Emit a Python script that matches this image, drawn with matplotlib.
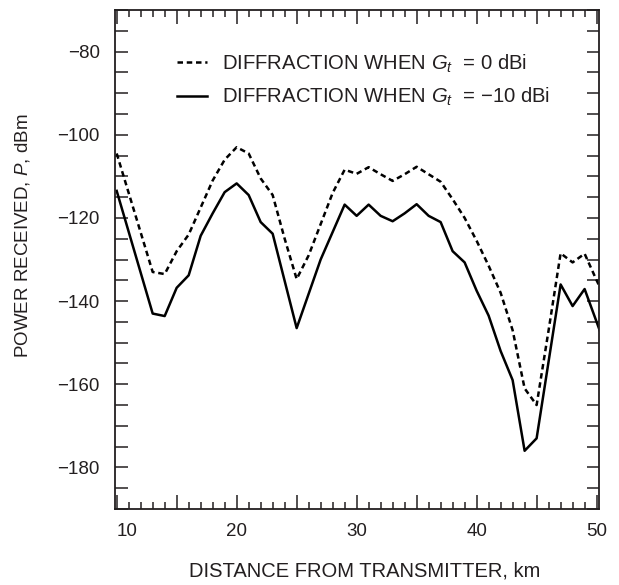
import matplotlib
matplotlib.use('Agg')
import matplotlib.pyplot as plt
from matplotlib.ticker import MultipleLocator, FixedLocator, FixedFormatter

# data (distance in km, power in dBm)
dist_0dbi = [10, 13, 14, 15, 16, 17, 18, 19, 20, 21, 22, 23, 24, 25, 26, 27, 28,
             29, 30, 31, 32, 33, 34, 35, 36, 37, 38, 39, 40, 41, 42, 43, 44, 45,
             46, 47, 48, 49, 50, 51]
power_0dbi = [-104.5, -133.0, -133.5, -128.0, -124.0, -117.5, -111.0, -106.0,
              -103.0, -104.5, -110.5, -114.5, -125.0, -134.7, -129.0, -121.5,
              -114.0, -108.4, -109.4, -107.8, -109.5, -111.1, -109.5, -107.7,
              -109.5, -111.3, -115.5, -120.0, -125.5, -131.5, -138.0, -147.0,
              -161.0, -165.0, -147.0, -128.5, -130.7, -128.6, -135.0, -141.0]

dist_m10dbi = [10, 13, 14, 15, 16, 17, 18, 19, 20, 21, 22, 23, 25, 27, 29, 30,
               31, 32, 33, 34, 35, 36, 37, 38, 39, 40, 41, 42, 43, 44, 45, 47,
               48, 49, 50, 51]
power_m10dbi = [-113.5, -143.0, -143.6, -136.8, -133.8, -124.3, -118.9, -113.8,
                -111.7, -114.5, -121.0, -123.8, -146.5, -130.0, -116.8, -119.5,
                -116.8, -119.5, -120.8, -118.9, -116.7, -119.5, -121.0, -128.0,
                -130.7, -137.5, -143.5, -152.0, -159.0, -176.0, -173.0, -136.0,
                -141.2, -137.1, -145.0, -153.0]

labels = ['DIFFRACTION WHEN $G_t$  = 0 dBi', 'DIFFRACTION WHEN $G_t$  = \u221210 dBi']

x_ticks = [10, 20, 30, 40, 50]
y_ticks = [-80, -100, -120, -140, -160, -180]

ink = '#231f20'
plt.rcParams['font.family'] = ['Liberation Sans', 'DejaVu Sans']
plt.rcParams['mathtext.fontset'] = 'custom'
plt.rcParams['mathtext.it'] = 'Liberation Sans:italic'
plt.rcParams['mathtext.rm'] = 'Liberation Sans'

fig = plt.figure(figsize=(6.19, 5.85), dpi=100)
ax = fig.add_axes([0.1858, 0.1299, 0.7819, 0.853])

ax.plot(dist_0dbi, power_0dbi, color='black', lw=1.8, dashes=(2.2, 1.5),
        label=labels[0])
ax.plot(dist_m10dbi, power_m10dbi, color='black', lw=1.8, label=labels[1])

ax.set_xlim(9.86, 50.2)
ax.set_ylim(-190, -70)

# x: long ticks every 5 km, short every 1 km, labels every 10 km
xt = list(range(10, 51, 5))
ax.xaxis.set_major_locator(FixedLocator(xt))
ax.xaxis.set_minor_locator(MultipleLocator(1))
ax.xaxis.set_major_formatter(FixedFormatter([str(t) if t in x_ticks else '' for t in xt]))

# y: all ticks every 5 dBm with the same length, labels every 20
yt = list(range(-190, -69, 5))
ax.yaxis.set_major_locator(FixedLocator(yt))
ax.yaxis.set_major_formatter(FixedFormatter(
    ['\u2212%d' % -t if t in y_ticks else '' for t in yt]))

ax.tick_params(axis='both', which='both', direction='in', top=True, right=True,
               color=ink, width=1.1, labelcolor=ink, labelsize=13.5)
ax.tick_params(axis='x', which='major', length=10, pad=10)
ax.tick_params(axis='x', which='minor', length=5)
ax.tick_params(axis='y', which='major', length=9, pad=11)

# the first distance label sits right of its tick, inside the frame
for lab in ax.get_xticklabels():
    if lab.get_text() == '10':
        lab.set_horizontalalignment('left')

for sp in ax.spines.values():
    sp.set_color(ink)
    sp.set_linewidth(1.3)

ax.set_xlabel('DISTANCE FROM TRANSMITTER, km', fontsize=14.5, color=ink)
ax.set_ylabel('POWER RECEIVED, $P$, dBm', fontsize=13.5, color=ink)
ax.xaxis.set_label_coords(0.515, -0.105)
ax.yaxis.set_label_coords(-0.172, 0.547)

ax.legend(loc='upper left', bbox_to_anchor=(0.128, 0.915), frameon=False,
          fontsize=14.6, handlelength=1.5, handletextpad=0.72,
          labelspacing=0.55, borderpad=0, borderaxespad=0, labelcolor=ink)

fig.savefig('out.png', dpi=100)
